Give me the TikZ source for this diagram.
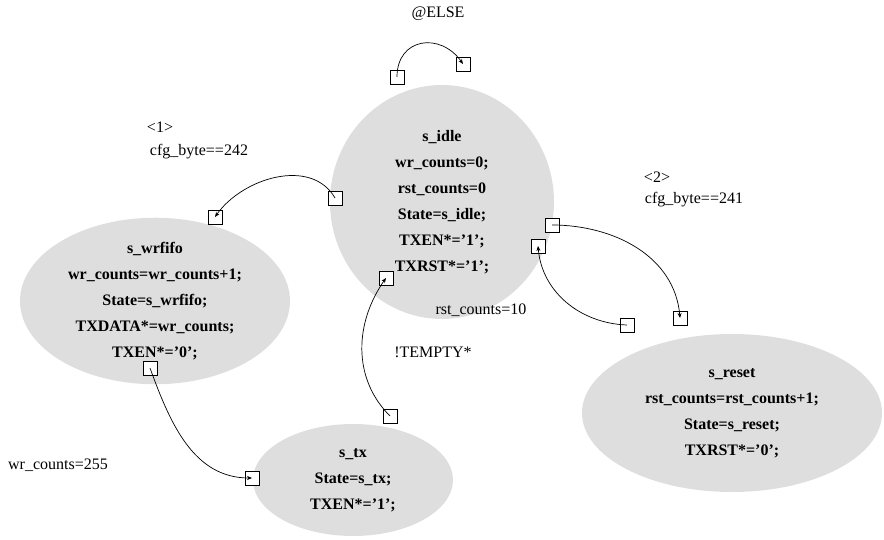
\documentclass[tikz,border=0pt]{standalone}
\usepackage{fontspec}
\setmainfont{Liberation Serif}
\usetikzlibrary{positioning,arrows.meta,shapes.geometric}

\begin{document}
\begin{tikzpicture}[x=1pt, y=1pt,
      state/.style={ellipse, fill=black!13, inner sep=0pt, align=center,
        font=\fontsize{16}{26}\selectfont\bfseries},
      port/.style={draw, fill=white, line width=0.8pt, minimum size=14pt,
        inner sep=0pt},
      lab/.style={font=\fontsize{16}{20}\selectfont},
      arr/.style={-{Stealth[length=5pt,width=4pt]}, line width=0.7pt}]
    \useasboundingbox (0,0) rectangle (884,539);
    \node[state, minimum width=224pt, minimum height=234pt] (idle) at (442,337)
      {s\_idle\\wr\_counts=0;\\rst\_counts=0\\State=s\_idle;\\TXEN*='1';\\TXRST*='1';};
    \node[state, minimum width=270pt, minimum height=165pt] (wrfifo) at (155,238)
      {s\_wrfifo\\wr\_counts=wr\_counts+1;\\State=s\_wrfifo;\\TXDATA*=wr\_counts;\\TXEN*='0';};
    \node[state, minimum width=200pt, minimum height=112pt] (tx) at (353,59)
      {s\_tx\\State=s\_tx;\\TXEN*='1';};
    \node[state, minimum width=300pt, minimum height=158pt] (reset) at (732,126)
      {s\_reset\\rst\_counts=rst\_counts+1;\\State=s\_reset;\\TXRST*='0';};

    \node[port] (idleL) at (397,462) {};
    \node[port] (idleR) at (463,475) {};
    \node[port] (idleW) at (335,341) {};
    \node[port] (wrfIn) at (215,322) {};
    \node[port] (wrfOut) at (150,171) {};
    \node[port] (txIn) at (252,61) {};
    \node[port] (txOut) at (390,123) {};
    \node[port] (idleB) at (386,261) {};
    \node[port] (idleE) at (552,314) {};
    \node[port] (idleE2) at (538,293) {};
    \node[port] (rstOut) at (627,214) {};
    \node[port] (rstIn) at (680,221) {};

    \draw[arr] (idleL.center) to[out=90, in=125, looseness=1.5] (idleR.center);
    \draw[arr] (idleW.center) to[out=120, in=55] (wrfIn.center);
    \draw[arr] (wrfOut.center) to[out=-70, in=180] (txIn.center);
    \draw[arr] (txOut.center) to[out=135, in=-125] (idleB.center);
    \draw[arr] (idleE.center) to[out=0, in=95] (rstIn.center);
    \draw[arr] (rstOut.center) to[out=178, in=-85] (idleE2.center);

    \node[lab] (else) at (438,525) {@ELSE};
    \node[lab] (pri1) at (160,412) {<1>};
    \node[lab] (c242) at (199,387) {cfg\_byte==242};
    \node[lab] (pri2) at (657,362) {<2>};
    \node[lab] (c241) at (694,339) {cfg\_byte==241};
    \node[lab] (rst10) at (481,229) {rst\_counts=10};
    \node[lab] (tempty) at (433,187) {!TEMPTY*};
    \node[lab] (wr255) at (58,74) {wr\_counts=255};
  \end{tikzpicture}
\end{document}
